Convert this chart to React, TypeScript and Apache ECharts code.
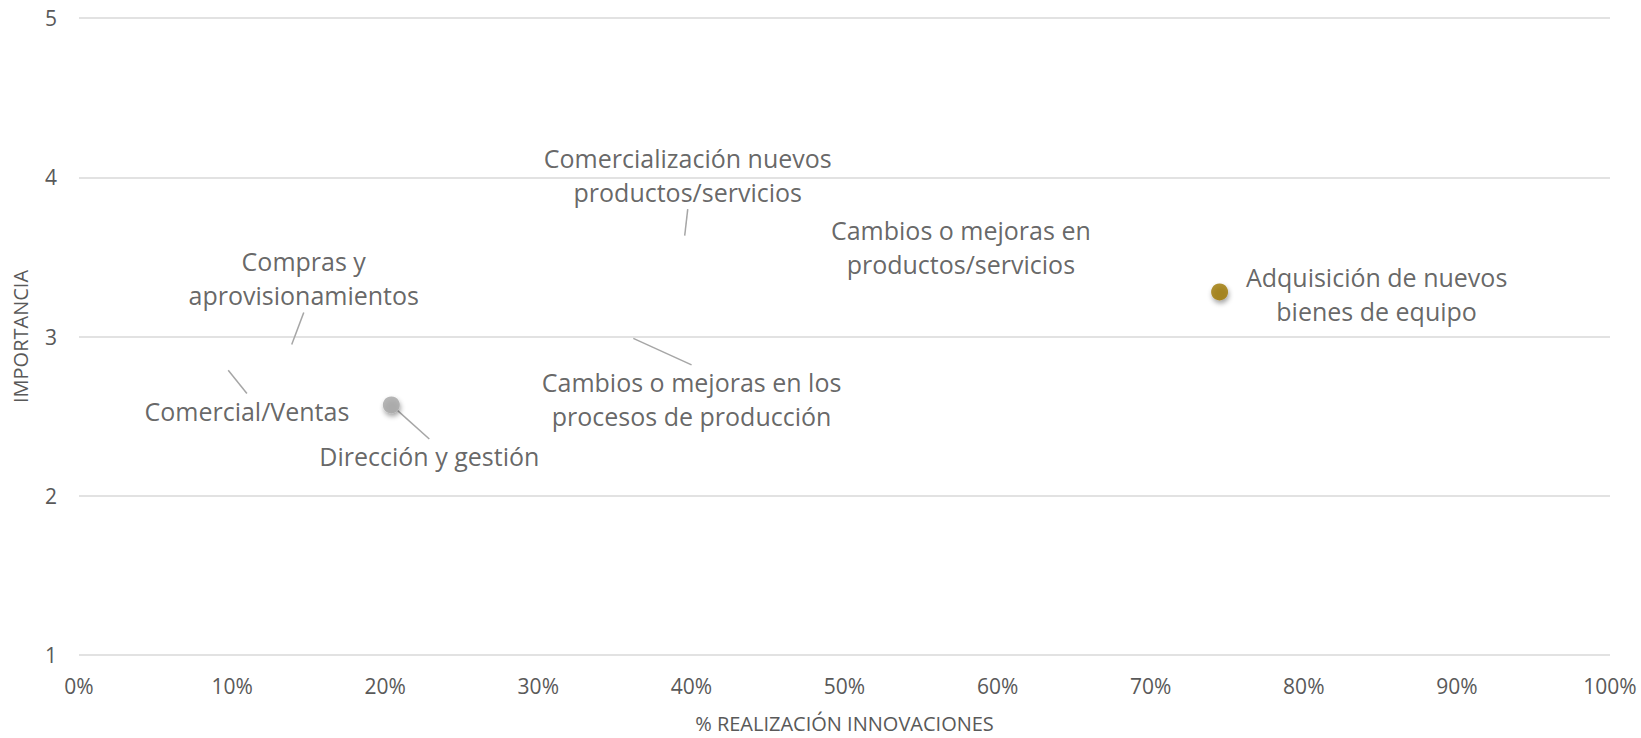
import React, { useEffect, useRef } from "react";
import * as echarts from "echarts";

const names = [
  "Comercialización nuevos\nproductos/servicios",
  "Cambios o mejoras en\nproductos/servicios",
  "Adquisición de nuevos\nbienes de equipo",
  "Compras y\naprovisionamientos",
  "Comercial/Ventas",
  "Dirección y gestión",
  "Cambios o mejoras en los\nprocesos de producción",
];
const realizacion = [39.5, 57.6, 74.5, 13.7, 9.4, 20.4, 35.7];
const importancia = [3.58, 3.56, 3.28, 2.9, 2.83, 2.57, 3.01];
const xTicks = [0, 10, 20, 30, 40, 50, 60, 70, 80, 90, 100];
const yTicks = [1, 2, 3, 4, 5];

// label placement (style only): offset of label centre from point, in px
const labelDx = [4, 0, 157, 15, 24, 38, 66];
const labelDy = [-69, 0, 2, -74, 47, 51, 64];
const leader = [true, false, false, true, true, true, true];
const markerColor = ["transparent", "transparent", "#9C7600", "transparent", "transparent", "#A5A5A5", "transparent"];

export default function App() {
  const ref = useRef<HTMLDivElement>(null);
  useEffect(() => {
    document.body.style.margin = "0";
    const chart = echarts.init(ref.current!, null, { renderer: "svg" });
    const font = "'Open Sans', 'Noto Sans', sans-serif";
    chart.setOption({
      animation: false,
      grid: { left: 79, right: 31, top: 18, bottom: 73, containLabel: false },
      xAxis: {
        type: "value",
        min: xTicks[0],
        max: xTicks[xTicks.length - 1],
        interval: 10,
        name: "% REALIZACIÓN INNOVACIONES",
        nameLocation: "middle",
        nameGap: 58,
        nameTextStyle: { color: "#595959", fontSize: 20, fontFamily: font },
        axisLine: { show: false },
        axisTick: { show: false },
        splitLine: { show: false },
        axisLabel: { color: "#595959", fontSize: 21, fontFamily: font, margin: 20, formatter: "{value}%" },
      },
      yAxis: {
        type: "value",
        min: yTicks[0],
        max: yTicks[yTicks.length - 1],
        interval: 1,
        name: "IMPORTANCIA",
        nameLocation: "middle",
        nameGap: 49,
        nameTextStyle: { color: "#595959", fontSize: 20, fontFamily: font },
        axisLine: { show: false },
        axisTick: { show: false },
        splitLine: { show: true, lineStyle: { color: "#D9D9D9", width: 1.5 } },
        axisLabel: { color: "#595959", fontSize: 21, fontFamily: font, margin: 22 },
      },
      series: [
        {
          type: "scatter",
          symbolSize: 17,
          data: names.map((n, i) => ({
            name: n,
            value: [realizacion[i], importancia[i]],
            itemStyle: {
              color: markerColor[i],
              shadowBlur: markerColor[i] === "transparent" ? 0 : 5,
              shadowOffsetX: 1,
              shadowOffsetY: 3,
              shadowColor: "rgba(0,0,0,0.45)",
            },
            labelLine: { show: leader[i] },
          })),
          label: {
            show: true,
            position: "inside",
            formatter: "{b}",
            color: "#404040",
            fontSize: 25,
            lineHeight: 34,
            fontFamily: font,
            align: "center",
          },
          labelLine: { show: true, lineStyle: { color: "#A6A6A6", width: 1.5 } },
          labelLayout: (p: any) => ({ dx: labelDx[p.dataIndex], dy: labelDy[p.dataIndex] }),
        },
      ],
    });
    return () => chart.dispose();
  }, []);
  return <div ref={ref} style={{ width: 1641, height: 738 }} />;
}
